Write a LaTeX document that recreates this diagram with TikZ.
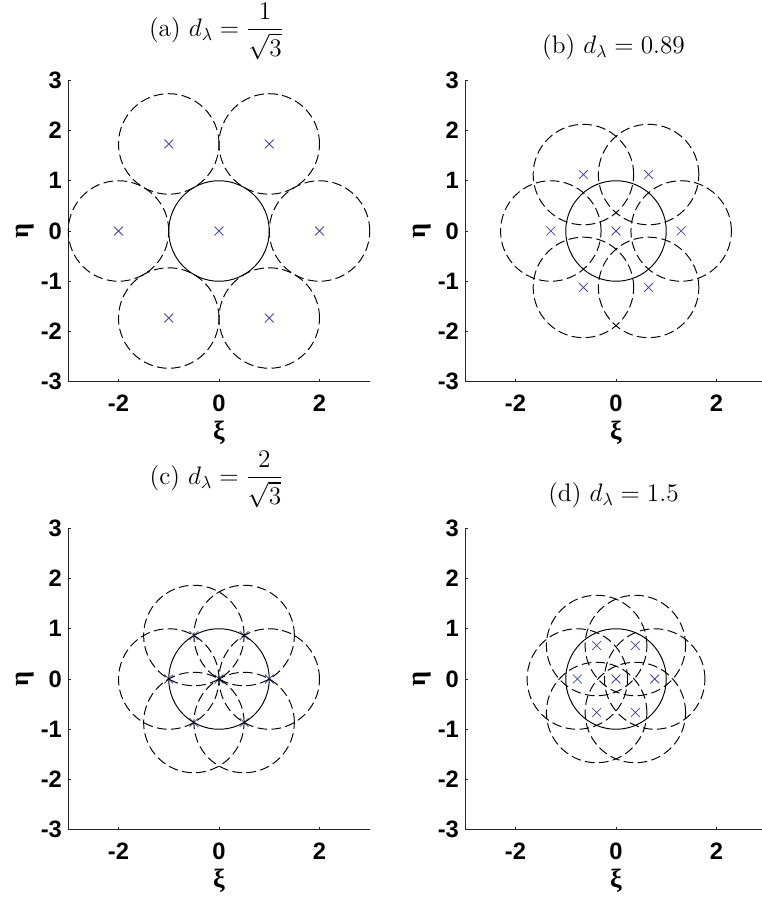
\documentclass[tikz,border=0pt]{standalone}
\usepackage{amsmath}
\usepackage{fontspec}
\newfontfamily\plotfont{Liberation Sans}
\newfontfamily\greekfont{Liberation Serif}
\usetikzlibrary{shapes.misc}
\definecolor{markblue}{RGB}{70,70,170}
\tikzset{
axisline/.style={line width=0.6pt,black!85},
tickline/.style={line width=0.5pt,black!85},
ringsolid/.style={line width=0.55pt,black},
ringdash/.style={line width=0.55pt,black,dash pattern=on 5.5pt off 2.5pt},
xmark/.style={cross out,draw=markblue,line width=0.45pt,minimum size=0.16cm,inner sep=0pt},
ticklab/.style={font=\plotfont\fontsize{13.5}{15}\selectfont\bfseries,inner sep=0pt},
axislab/.style={font=\greekfont\fontsize{15}{17}\selectfont\bfseries,inner sep=0pt},
paneltitle/.style={font=\Large,inner sep=0pt,anchor=south}
}
\begin{document}
\begin{tikzpicture}
\useasboundingbox (0,0) rectangle (15.24,17.98);
\foreach \pn/\px/\py/\dist/\ttl in {a/4.38/13.36/2/{(a) $d_\lambda=\dfrac{1}{\sqrt{3}}$},
  b/12.32/13.36/1.297/{(b) $d_\lambda=0.89$},
  c/4.38/4.40/1/{(c) $d_\lambda=\dfrac{2}{\sqrt{3}}$},
  d/12.32/4.40/0.770/{(d) $d_\lambda=1.5$}}{
\begin{scope}[shift={(\px,\py)},x=1.005cm,y=1.005cm]
\draw[axisline] (-3,3) -- (-3,-3) -- (3,-3);
\foreach \t in {-3,...,3}{
  \draw[tickline] (-3,\t) -- ++(0.06,0);
  \node[ticklab,anchor=east] (\pn-ytick\t) at (-3.12,\t) {\t};
}
\foreach \t in {-2,0,2}{
  \draw[tickline] (\t,-3) -- ++(0,0.06);
  \node[ticklab,anchor=north] (\pn-xtick\t) at (\t,-3.26) {\t};
}
\node[xmark] (\pn-ctr) at (0,0) {};
\foreach \k in {0,...,5}
  \node[xmark] (\pn-ctr\k) at (\k*60:\dist) {};
\draw[ringsolid] (0,0) circle[radius=1];
\foreach \k in {0,...,5}
  \draw[ringdash] (\k*60:\dist) circle[radius=1];
\node[paneltitle] (\pn-title) at (-0.05,3.4) {\ttl};
\node[axislab] (\pn-xlab) at (0,-4.02) {ξ};
\node[axislab,rotate=90] (\pn-ylab) at (-3.86,0) {η};
\end{scope}
}
\end{tikzpicture}
\end{document}
